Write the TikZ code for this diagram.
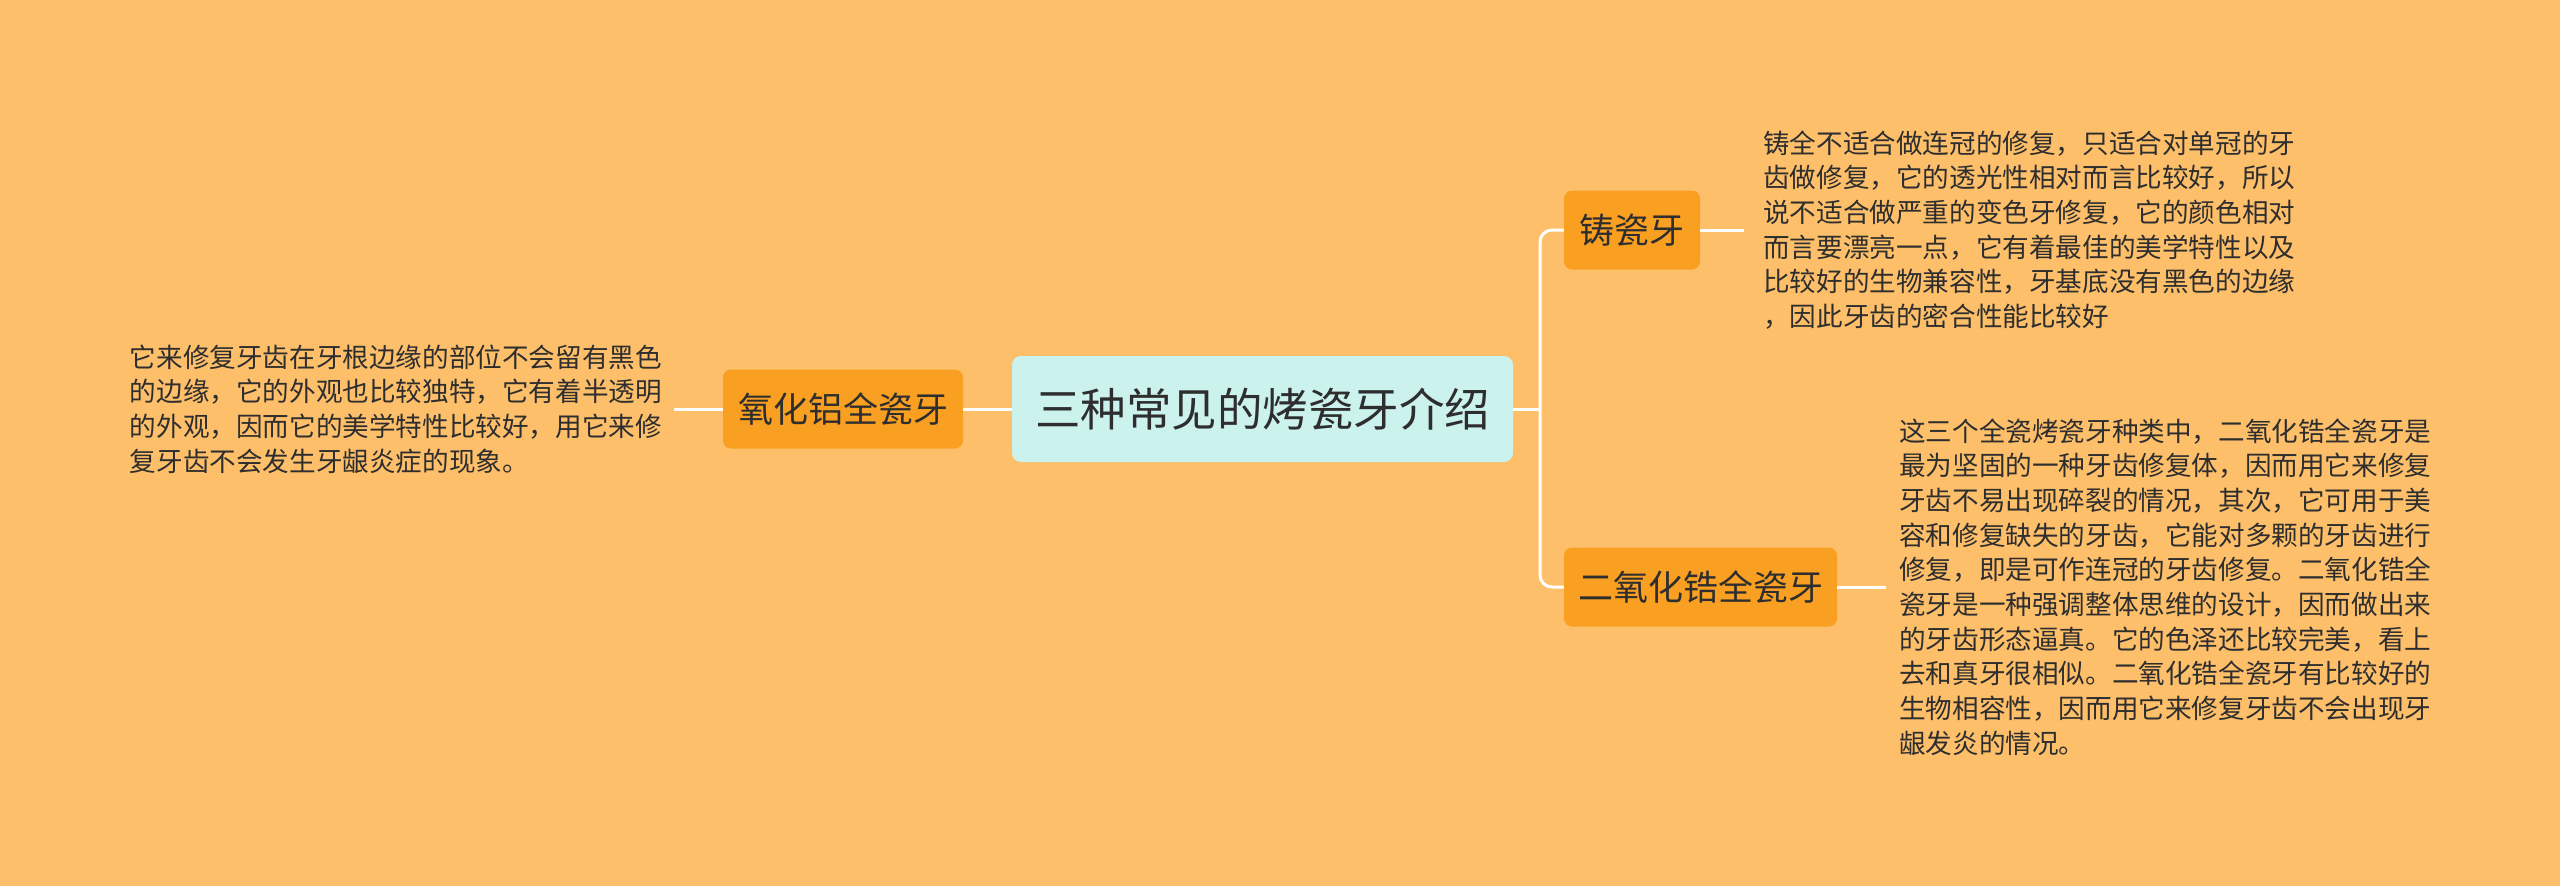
\documentclass[tikz,border=0pt]{standalone}
\usepackage{fontspec}
\setmainfont{Noto Sans CJK SC}
\definecolor{bgC}{HTML}{FEBF6A}
\definecolor{orangeN}{HTML}{F99F22}
\definecolor{rootC}{HTML}{CCF2EE}
\definecolor{txt}{HTML}{2E2E2E}
\begin{document}
\begin{tikzpicture}[x=1pt,y=-1pt,
  conn/.style={draw=white, line width=3pt},
  branch/.style={fill=orangeN, rounded corners=8pt, text=txt, font=\fontsize{35}{40}\selectfont, minimum height=79pt, inner xsep=14pt, inner ysep=0pt},
  root/.style={fill=rootC, rounded corners=9pt, text=txt, font=\fontsize{45.5}{52}\selectfont, minimum width=501pt, minimum height=106pt},
  desc/.style={text=txt, font=\fontsize{26.6}{34.7}\selectfont, align=left, text width=536pt, inner ysep=0pt}
]
\fill[bgC] (0,0) rectangle (2560,886);
\useasboundingbox (0,0) rectangle (2560,886);
\node[root] (root) at (1262.5,409) {三种常见的烤瓷牙介绍};
\node[branch, minimum width=240pt] (alu) at (843,409) {氧化铝全瓷牙};
\node[branch, minimum width=136pt] (zhu) at (1632,230) {铸瓷牙};
\node[branch, minimum width=273pt] (zr) at (1700.5,587) {二氧化锆全瓷牙};
\coordinate (bus) at (1540,409);
\node[desc, anchor=east, inner xsep=8pt] (alut) at (674,409) {它来修复牙齿在牙根边缘的部位不会留有黑色\\的边缘，它的外观也比较独特，它有着半透明\\的外观，因而它的美学特性比较好，用它来修\\复牙齿不会发生牙龈炎症的现象。};
\node[desc, anchor=west, inner xsep=19pt] (zhut) at (1744,230) {铸全不适合做连冠的修复，只适合对单冠的牙\\齿做修复，它的透光性相对而言比较好，所以\\说不适合做严重的变色牙修复，它的颜色相对\\而言要漂亮一点，它有着最佳的美学特性以及\\比较好的生物兼容性，牙基底没有黑色的边缘\\，因此牙齿的密合性能比较好};
\node[desc, anchor=west, inner xsep=13pt] (zrt) at (1886,587) {这三个全瓷烤瓷牙种类中，二氧化锆全瓷牙是\\最为坚固的一种牙齿修复体，因而用它来修复\\牙齿不易出现碎裂的情况，其次，它可用于美\\容和修复缺失的牙齿，它能对多颗的牙齿进行\\修复，即是可作连冠的牙齿修复。二氧化锆全\\瓷牙是一种强调整体思维的设计，因而做出来\\的牙齿形态逼真。它的色泽还比较完美，看上\\去和真牙很相似。二氧化锆全瓷牙有比较好的\\生物相容性，因而用它来修复牙齿不会出现牙\\龈发炎的情况。};
\draw[conn] (root.west) -- (alu.east);
\draw[conn] (alu.west) -- (alut.east);
\draw[conn] (root.east) -- (bus);
\draw[conn, rounded corners=12pt] (zhu.west) -| (bus) |- (zr.west);
\draw[conn] (zhu.east) -- (zhut.west);
\draw[conn] (zr.east) -- (zrt.west);
\end{tikzpicture}
\end{document}
